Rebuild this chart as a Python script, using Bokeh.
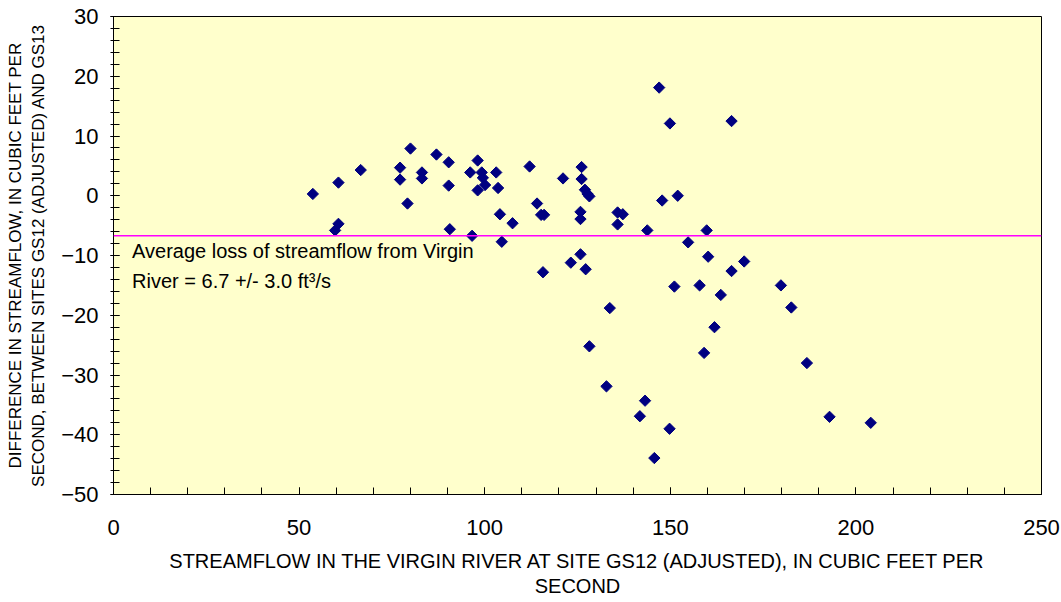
import math
from bokeh.plotting import figure
from bokeh.models import ColumnDataSource, Span, Label, SingleIntervalTicker, Range1d
from bokeh.embed import file_html
from bokeh.resources import INLINE

# Streamflow at GS12 (adjusted), cfs
flow_gs12 = [53.7, 59.7, 60.6, 60.6, 66.6, 77.2, 77.2, 79.2, 80.0, 83.1,
             83.1, 87.0, 90.3, 90.3, 90.6, 96.1, 96.6, 98.1, 99.2, 99.5,
             100.1, 98.1, 103.1, 103.6, 104.1, 107.5, 104.6, 112.1, 114.1, 115.2,
             116.0, 115.7, 121.1, 126.1, 126.1, 127.0, 127.7, 128.2, 125.8, 125.8,
             123.2, 125.8, 127.2, 135.8, 137.2, 135.8, 143.8, 147.0, 149.9, 147.8,
             152.0, 154.8, 159.8, 160.2, 166.5, 166.5, 169.9, 151.1, 157.9, 163.6,
             133.7, 161.9, 179.8, 182.6, 128.2, 159.1, 186.8, 132.8, 143.2, 141.8,
             192.9, 204.0, 149.8, 145.7]
# Difference in streamflow between GS12 (adjusted) and GS13, cfs
flow_diff = [0.3, -5.8, -4.7, 2.2, 4.3, 4.7, 2.7, -1.3, 7.9, 3.9,
             2.9, 6.9, 5.6, 1.7, -5.6, 3.9, -6.7, 5.9, 3.9, 3.0,
             1.8, 0.9, 3.9, 1.3, -3.1, -4.6, -7.7, 4.9, -1.3, -3.2,
             -3.2, -12.8, 2.9, 4.8, 2.8, 1.0, 0.3, -0.1, -2.7, -3.9,
             -11.2, -9.8, -12.3, -2.8, -3.1, -4.8, -5.8, 18.1, 12.1, -0.8,
             0.0, -7.8, -5.8, -10.2, 12.5, -12.6, -11.0, -15.2, -15.0, -16.6,
             -18.8, -22.0, -15.0, -18.7, -25.2, -26.3, -28.0, -31.9, -34.3, -36.9,
             -37.0, -38.0, -39.0, -43.9]
average_loss = -6.7
note_lines = ["Average loss of streamflow from Virgin", "River = 6.7 +/- 3.0 ft\u00b3/s"]
x_title = "STREAMFLOW IN THE VIRGIN RIVER AT SITE GS12 (ADJUSTED), IN CUBIC FEET PER\nSECOND"
y_title = "DIFFERENCE IN STREAMFLOW, IN CUBIC FEET PER\nSECOND, BETWEEN SITES GS12 (ADJUSTED) AND GS13"

FONT = "Liberation Sans"

p = figure(width=1061, height=602, output_backend="svg", toolbar_location=None,
           x_range=Range1d(0, 250), y_range=Range1d(-50, 30))
p.min_border_left = 113
p.min_border_right = 20
p.min_border_top = 16
p.min_border_bottom = 108
p.background_fill_color = "#FFFFCC"
p.border_fill_color = "white"
p.outline_line_color = "black"
p.outline_line_width = 1
p.xgrid.visible = False
p.ygrid.visible = False

src = ColumnDataSource(data=dict(x=flow_gs12, y=flow_diff))
p.scatter("x", "y", source=src, marker="square", angle=math.pi / 4, size=8,
          fill_color="#000080", line_color="#000080")

p.add_layout(Span(location=average_loss, dimension="width", line_color="#FF00FF", line_width=1.5))

for i, t in enumerate(note_lines):
    p.add_layout(Label(x=5, y=-9.3 - 4.9 * i, text=t, text_font=FONT, text_font_size="20px",
                       text_color="black", text_baseline="middle"))

xa = p.xaxis[0]
xa.ticker = SingleIntervalTicker(interval=50, num_minor_ticks=5)
xa.major_tick_in = 7
xa.major_tick_out = 0
xa.minor_tick_in = 7
xa.minor_tick_out = 0
xa.major_label_standoff = 25
xa.axis_label = x_title
xa.axis_label_standoff = 12
xa.axis_label_text_font = FONT
xa.axis_label_text_font_size = "20px"
xa.axis_label_text_font_style = "normal"
xa.axis_label_text_line_height = 1.15
xa.major_label_text_font = FONT
xa.major_label_text_font_size = "22px"

ya = p.yaxis[0]
ya.ticker = SingleIntervalTicker(interval=10, num_minor_ticks=5)
ya.major_tick_in = 6
ya.major_tick_out = 3
ya.minor_tick_in = 6
ya.minor_tick_out = 3
ya.major_label_standoff = 12
ya.axis_label = y_title
ya.axis_label_standoff = 10
ya.axis_label_text_font = FONT
ya.axis_label_text_font_size = "17px"
ya.axis_label_text_font_style = "normal"
ya.major_label_text_font = FONT
ya.major_label_text_font_size = "22px"

for ax in (xa, ya):
    ax.axis_line_color = "black"
    ax.major_tick_line_color = "black"
    ax.minor_tick_line_color = "black"
    ax.major_label_text_color = "black"
    ax.axis_label_text_color = "black"

open("out.html", "w").write(file_html(p, INLINE))
